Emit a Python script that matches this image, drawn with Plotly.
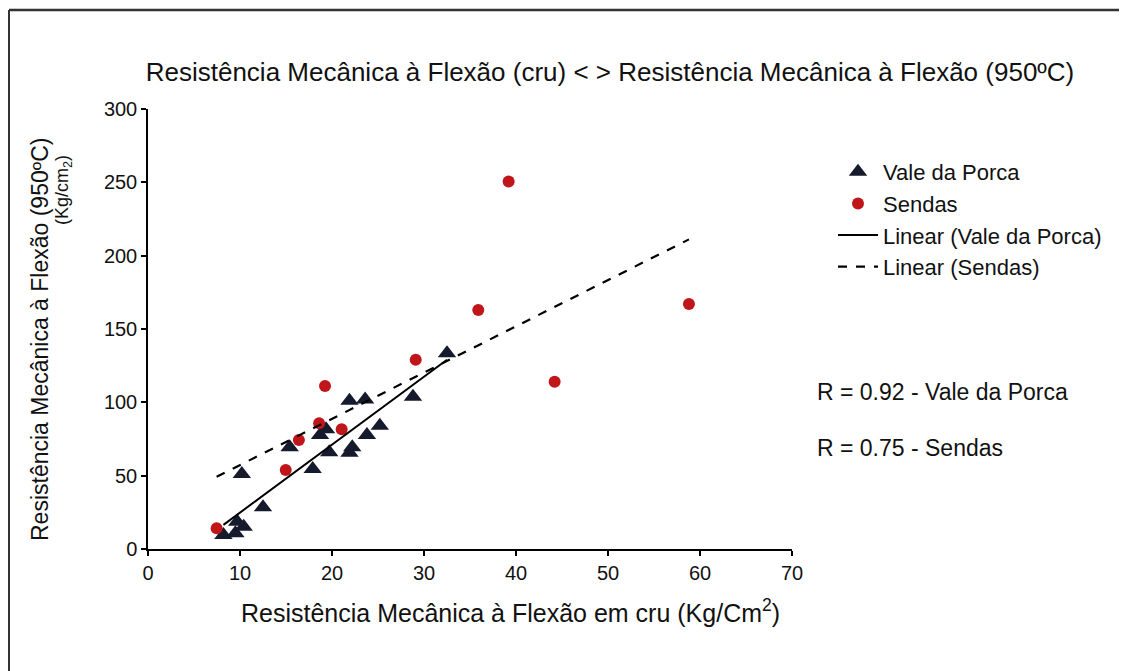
import numpy as np
import plotly.graph_objects as go

# Data
vale_x = [8.2, 9.5, 9.7, 10.4, 10.2, 12.5, 15.4, 17.9, 18.7, 19.35, 19.7, 21.9, 22.2,
          21.9, 23.6, 23.8, 25.2, 28.8, 32.5]
vale_y = [9.5, 10.7, 18.6, 15.2, 51.1, 28.4, 69.3, 54.5, 77.7, 81.6, 65.9, 65.7, 69.3,
          101.0, 102.0, 77.7, 84.0, 103.8, 133.5]
sendas_x = [7.46, 14.97, 16.4, 18.6, 19.24, 21.05, 29.1, 35.9, 39.2, 44.2, 58.8]
sendas_y = [14.1, 53.9, 74.3, 85.7, 111.1, 81.6, 129.0, 163.0, 250.5, 114.0, 167.0]

x_ticks = [0, 10, 20, 30, 40, 50, 60, 70]
y_ticks = [0, 50, 100, 150, 200, 250, 300]

title_text = "Resistência Mecânica à Flexão (cru) < > Resistência Mecânica à Flexão (950ºC)"
x_title = "Resistência Mecânica à Flexão em cru (Kg/Cm<sup>2</sup>)"
y_title_1 = "Resistência Mecânica à Flexão (950ºC)"
y_title_2 = "(Kg/cm<sub>2</sub>)"
r_labels = ["R = 0.92 - Vale da Porca", "R = 0.75 - Sendas"]

FONT = "Liberation Sans, Arial, sans-serif"

def fit_line(xs, ys):
    xs = np.asarray(xs); ys = np.asarray(ys)
    m, b = np.polyfit(xs, ys, 1)
    lx = np.array([xs.min(), xs.max()])
    return lx, m * lx + b

vx, vy = fit_line(vale_x, vale_y)
sx, sy = fit_line(sendas_x, sendas_y)

fig = go.Figure()
fig.add_trace(go.Scatter(x=vale_x, y=vale_y, mode="markers", name="Vale da Porca",
                         marker=dict(symbol="triangle-up", size=16, color="#151a2c")))
fig.add_trace(go.Scatter(x=sendas_x, y=sendas_y, mode="markers", name="Sendas",
                         marker=dict(symbol="circle", size=12, color="#c0161a")))
fig.add_trace(go.Scatter(x=vx, y=vy, mode="lines", name="Linear (Vale da Porca)",
                         line=dict(color="black", width=2)))
fig.add_trace(go.Scatter(x=sx, y=sy, mode="lines", name="Linear (Sendas)",
                         line=dict(color="black", width=2.2, dash="dash")))

OFF = 8  # page body margin
W, H = 1127 - OFF, 671 - OFF
L, T = 148 - OFF, 109 - OFF
R = W - (792 - OFF)
B = H - (549 - OFF)
pw, ph = W - L - R, H - T - B

def pxx(px):  # reference pixel x -> paper
    return (px - OFF - L) / pw

def pxy(py):  # reference pixel y -> paper
    return (H - B - (py - OFF)) / ph

# frame: only left & top edges visible in reference
fig.add_shape(type="line", xref="paper", yref="paper",
              x0=pxx(9), x1=pxx(9), y0=pxy(700), y1=pxy(10),
              line=dict(color="#333333", width=2), layer="below")
fig.add_shape(type="line", xref="paper", yref="paper",
              x0=pxx(9), x1=pxx(1200), y0=pxy(10), y1=pxy(10),
              line=dict(color="#333333", width=2.5), layer="below")

for txt, yy in zip(r_labels, [392, 448]):
    fig.add_annotation(text=txt, xref="paper", yref="paper",
                       x=pxx(815), y=pxy(yy), xanchor="left", yanchor="middle",
                       showarrow=False, font=dict(family=FONT, size=23, color="#111"))

# y axis titles (two lines, positioned like reference)
fig.add_annotation(text=y_title_1, xref="paper", yref="paper", textangle=-90,
                   x=pxx(40), y=pxy(340), xanchor="center", yanchor="middle",
                   showarrow=False, font=dict(family=FONT, size=23, color="#111"))
fig.add_annotation(text=y_title_2, xref="paper", yref="paper", textangle=-90,
                   x=pxx(63), y=pxy(190), xanchor="center", yanchor="middle",
                   showarrow=False, font=dict(family=FONT, size=18, color="#111"))

# x axis title
fig.add_annotation(text=x_title, xref="paper", yref="paper",
                   x=pxx(510), y=pxy(611), xanchor="center", yanchor="middle",
                   showarrow=False, font=dict(family=FONT, size=25, color="#111"))

fig.update_layout(
    width=W, height=H,
    margin=dict(l=L, r=R, t=T, b=B),
    paper_bgcolor="white", plot_bgcolor="white",
    font=dict(family=FONT, size=19, color="#111"),
    title=dict(text=title_text, x=(610 - OFF) / W, xanchor="center",
               y=1 - (72 - OFF) / H, yanchor="middle",
               font=dict(family=FONT, size=26, color="#111")),
    showlegend=True,
    legend=dict(x=pxx(833), y=pxy(151), xanchor="left", yanchor="top",
                font=dict(family=FONT, size=22, color="#111"), bgcolor="rgba(0,0,0,0)",
                tracegroupgap=0, itemwidth=40),
    xaxis=dict(range=[0, 70], tickvals=x_ticks, ticks="outside", ticklen=5, tickwidth=1.5,
               tickcolor="black", showline=True, linecolor="black", linewidth=1.5,
               showgrid=False, zeroline=False, tickfont=dict(size=20)),
    yaxis=dict(range=[0, 300], tickvals=y_ticks, ticks="outside", ticklen=5, tickwidth=1.5,
               tickcolor="black", showline=True, linecolor="black", linewidth=1.5,
               showgrid=False, zeroline=False, tickfont=dict(size=20)),
)

fig.write_html("out.html")
